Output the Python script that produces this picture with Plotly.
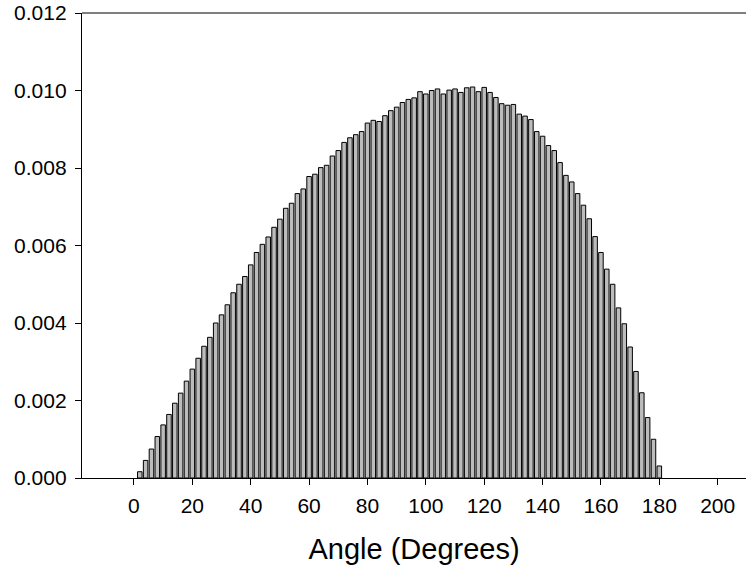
import plotly.graph_objects as go

angles = list(range(2, 181, 2))
values = [
    0.000162, 0.000454, 0.000747, 0.00107, 0.00137, 0.00164, 0.00193, 0.00219, 0.00250, 0.00281,
    0.00309, 0.00340, 0.00363, 0.00400, 0.00421, 0.00447, 0.00478, 0.00500, 0.00520, 0.00550,
    0.00582, 0.00603, 0.00622, 0.00647, 0.00668, 0.00696, 0.00709, 0.00734, 0.00746, 0.00778,
    0.00784, 0.00801, 0.00807, 0.00831, 0.00845, 0.00866, 0.00878, 0.00886, 0.00894, 0.00916,
    0.00923, 0.00920, 0.00935, 0.00948, 0.00957, 0.00969, 0.00977, 0.00981, 0.00997, 0.00991,
    0.01000, 0.01004, 0.00991, 0.01001, 0.01004, 0.00995, 0.01007, 0.01009, 0.00997, 0.01008,
    0.00995, 0.00982, 0.00966, 0.00962, 0.00964, 0.00939, 0.00934, 0.00925, 0.00894, 0.00882,
    0.00858, 0.00845, 0.00814, 0.00781, 0.00764, 0.00734, 0.00704, 0.00669, 0.00623, 0.00582,
    0.00539, 0.00500, 0.00439, 0.00398, 0.00338, 0.00275, 0.00220, 0.00156, 0.00100, 0.00031,
]

x_ticks = list(range(0, 201, 20))
y_ticks = [0.000, 0.002, 0.004, 0.006, 0.008, 0.010, 0.012]

fig = go.Figure(go.Bar(
    x=angles, y=values, width=1.55,
    marker=dict(color="#bcbcbc", line=dict(color="black", width=1)),
))

font = "Liberation Sans, Arial, sans-serif"
fig.update_layout(
    width=746, height=575,
    margin=dict(l=82, r=0, t=13, b=97),
    paper_bgcolor="white", plot_bgcolor="white",
    showlegend=False,
    font=dict(family=font, color="black", size=21),
    xaxis=dict(
        range=[-17.8, 209.7], tickvals=x_ticks, ticks="outside", ticklen=6,
        tickcolor="black", showline=True, linecolor="black", linewidth=1.3,
        showgrid=False, zeroline=False, tickfont=dict(size=21),
        ticklabelstandoff=3,
        title=dict(text="Angle (Degrees)", font=dict(size=29), standoff=22),
    ),
    yaxis=dict(
        range=[0, 0.012], tickvals=y_ticks, tickformat=".3f", ticks="outside",
        ticklen=6, tickcolor="black", showline=True, linecolor="black",
        linewidth=1.3, showgrid=False, zeroline=False, tickfont=dict(size=21),
        ticklabelstandoff=4,
    ),
    shapes=[dict(type="line", xref="paper", yref="paper", x0=0, x1=1, y0=1, y1=1,
                 line=dict(color="#555555", width=1.5))],
)

fig.write_html("out.html")
